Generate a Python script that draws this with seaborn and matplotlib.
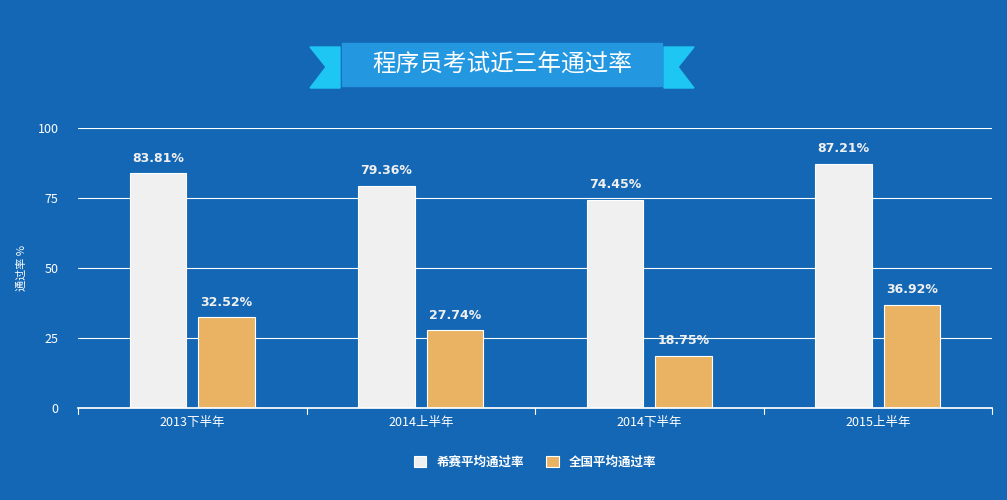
import matplotlib
matplotlib.use("Agg")
import matplotlib.pyplot as plt
import seaborn as sns
import pandas as pd
from matplotlib.patches import Polygon, Rectangle

categories = ["2013下半年", "2014上半年", "2014下半年", "2015上半年"]
series_names = ["希赛平均通过率", "全国平均通过率"]
xisai = [83.81, 79.36, 74.45, 87.21]
national = [32.52, 27.74, 18.75, 36.92]
yticks = [0, 25, 50, 75, 100]

bg = "#1467b5"
sns.set_theme(style="white")
plt.rcParams['font.family'] = ['Noto Sans CJK SC', 'DejaVu Sans']

df = pd.DataFrame({
    "cat": categories * 2,
    "val": xisai + national,
    "series": [series_names[0]] * 4 + [series_names[1]] * 4,
})

fig = plt.figure(figsize=(10.07, 5.0), dpi=100, facecolor=bg)
ax = fig.add_axes([78/1007, 92/500, 914/1007, 280/500])
ax.set_facecolor(bg)
for y in yticks[1:]:
    ax.axhline(y, color="white", lw=0.8, zorder=0)
sns.barplot(data=df, x="cat", y="val", hue="series", palette=["#f0f0f0", "#ffb84d"],
            width=0.6, gap=0.18, ax=ax, edgecolor="white", linewidth=0.8, zorder=2, legend=True)
ax.set_xlim(-0.5, 3.5)
ax.set_ylim(0, 100)
ax.set_yticks(yticks)
ax.set_yticklabels([str(v) for v in yticks], color="white", fontsize=9)
ax.tick_params(axis="y", length=0, pad=14)
ax.set_xticks(range(4))
ax.set_xticklabels(categories, color="white", fontsize=9)
ax.tick_params(axis="x", length=0, pad=6)
for b in [-0.5, 0.5, 1.5, 2.5, 3.5]:
    ax.plot([b, b], [0, -2.2], color="white", lw=0.8, clip_on=False)
for s in ["top", "right", "left"]:
    ax.spines[s].set_visible(False)
ax.spines["bottom"].set_color("white")
ax.set_xlabel("")
ax.set_ylabel("通过率 %", color="white", fontsize=8, labelpad=8)

for cont in ax.containers:
    for bar in cont:
        h = bar.get_height()
        ax.text(bar.get_x() + bar.get_width()/2, h + 3, f"{h:.2f}%", ha="center", va="bottom",
                color="#f0f0f0", fontsize=9, fontweight="bold", family="DejaVu Sans")

leg = ax.legend(loc="upper center", bbox_to_anchor=(0.5, -0.13), ncol=2, frameon=False,
                fontsize=9, handlelength=1.0, handleheight=1.0, columnspacing=1.8)
for t in leg.get_texts():
    t.set_color("white")
    t.set_fontweight("bold")

# title banner
W, H = 1007, 500
def P(pts):
    return [(x/W, 1 - y/H) for x, y in pts]
fig.patches.append(Polygon(P([(310, 47), (340, 47), (340, 88), (310, 88), (326, 67)]),
                           closed=True, transform=fig.transFigure, color="#1ec6f4", zorder=1))
fig.patches.append(Polygon(P([(694, 47), (664, 47), (664, 88), (694, 88), (678, 67)]),
                           closed=True, transform=fig.transFigure, color="#1ec6f4", zorder=1))
fig.patches.append(Rectangle((342/W, 1 - 86/H), 320/W, 43/H, transform=fig.transFigure,
                             color="#2397e0", zorder=2))
fig.text(502/W, 1 - 65/H, "程序员考试近三年通过率", ha="center", va="center",
         color="white", fontsize=17, zorder=3)

fig.savefig("out.png", dpi=100, facecolor=bg)
